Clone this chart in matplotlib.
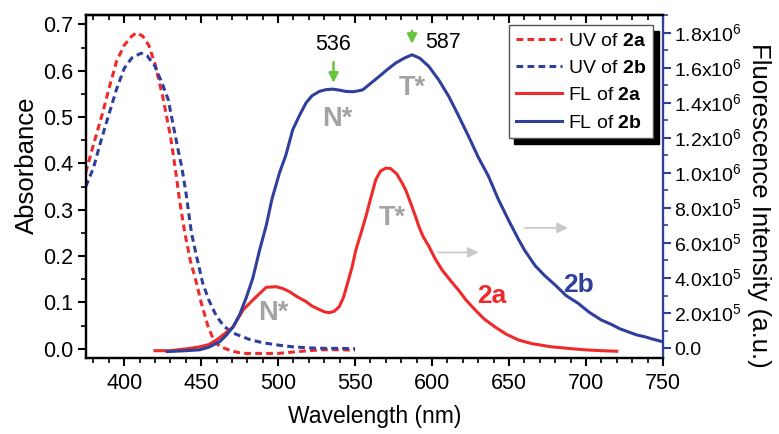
import numpy as np
import matplotlib
matplotlib.use('Agg')
import matplotlib.pyplot as plt
from matplotlib.ticker import MultipleLocator, FixedLocator, FixedFormatter

plt.rcParams['font.family'] = ['Liberation Sans', 'DejaVu Sans']
plt.rcParams['mathtext.fontset'] = 'custom'
plt.rcParams['mathtext.rm'] = 'Liberation Sans'
plt.rcParams['mathtext.bf'] = 'Liberation Sans:bold'

# UV absorption (left axis)
uv_a_x = [375, 380, 386, 390, 395, 400, 405, 408, 412, 416, 420, 425, 430, 433, 436, 439.4, 443, 447, 450,
          454.5, 458, 462, 470, 477, 490, 500, 510, 520, 530, 540, 550]
uv_a_y = [0.38, 0.44, 0.509, 0.56, 0.62, 0.655, 0.675, 0.682, 0.675, 0.655, 0.615, 0.545, 0.46, 0.394, 0.32,
          0.25, 0.19, 0.142, 0.10, 0.048, 0.02, 0.005, -0.005, -0.01, -0.01, -0.01, -0.007, -0.004, -0.002,
          -0.002, -0.003]
uv_b_x = [375, 380, 385, 390, 395, 400, 405, 411, 415, 420, 425, 428.6, 432, 435, 437.3, 440, 443.7, 447,
          451, 455, 460, 465, 470.7, 481.5, 490, 500, 510, 520, 530, 540, 550]
uv_b_y = [0.35, 0.39, 0.45, 0.505, 0.56, 0.605, 0.628, 0.638, 0.632, 0.61, 0.57, 0.538, 0.48, 0.43, 0.394,
          0.34, 0.25, 0.2, 0.142, 0.105, 0.07, 0.048, 0.034, 0.02, 0.013, 0.008, 0.004, 0.002, 0.001, 0.001, 0.0]

# fluorescence (right axis, units of 1e6)
fl_a_x = [420, 430, 440, 449, 455, 460, 465, 470.7, 477.2, 484.7, 492.3, 498.8, 503, 507.4, 512, 518.2,
          522, 526.8, 530, 533.2, 536.5, 539.7, 542.5, 545.1, 548, 550.5, 554, 557, 560, 563.4, 566.5, 570,
          573, 577, 580.7, 583, 586, 589.3, 591.5, 594, 598, 602, 606.5, 612, 617.3, 622, 628.1, 634, 641,
          648, 656.2, 665, 677.7, 690, 699.3, 710, 720]
fl_a_y = [-0.015, -0.015, -0.005, 0.007, 0.02, 0.046, 0.08, 0.12, 0.217, 0.284, 0.347, 0.35, 0.34, 0.322,
          0.295, 0.265, 0.24, 0.22, 0.207, 0.202, 0.21, 0.236, 0.29, 0.37, 0.46, 0.56, 0.66, 0.75, 0.85, 0.96,
          1.01, 1.027, 1.025, 0.995, 0.94, 0.9, 0.83, 0.75, 0.693, 0.64, 0.58, 0.51, 0.446, 0.385, 0.33,
          0.275, 0.217, 0.165, 0.12, 0.08, 0.046, 0.025, 0.007, -0.003, -0.01, -0.015, -0.018]
fl_b_x = [428, 440, 449, 455, 462, 466, 470.7, 475, 479.4, 483.6, 488, 492.3, 496, 500.9, 505, 509.5, 514,
          518.2, 522, 526.8, 531, 535.4, 540, 544, 548.3, 552, 555, 560, 565.6, 571, 576.4, 582, 587, 592,
          597.9, 604.4, 610.9, 617, 623.8, 630, 636.7, 643, 649.7, 656.2, 660, 667, 673, 680, 687, 695, 702,
          710, 716.5, 722, 727.3, 733, 738, 743, 749]
fl_b_y = [-0.02, -0.015, -0.01, 0.005, 0.036, 0.07, 0.12, 0.19, 0.29, 0.4, 0.56, 0.7, 0.85, 1.0, 1.1, 1.246,
          1.33, 1.4, 1.44, 1.465, 1.475, 1.478, 1.472, 1.465, 1.463, 1.468, 1.474, 1.51, 1.55, 1.59, 1.627,
          1.655, 1.674, 1.655, 1.608, 1.53, 1.436, 1.33, 1.207, 1.09, 0.98, 0.85, 0.73, 0.62, 0.56, 0.47,
          0.415, 0.36, 0.3, 0.255, 0.205, 0.16, 0.135, 0.11, 0.093, 0.075, 0.065, 0.052, 0.038]

right_ticks = [0, 0.2e6, 0.4e6, 0.6e6, 0.8e6, 1.0e6, 1.2e6, 1.4e6, 1.6e6, 1.8e6]
right_labels = ['0.0', r'2.0x10$^5$', r'4.0x10$^5$', r'6.0x10$^5$', r'8.0x10$^5$', r'1.0x10$^6$',
                r'1.2x10$^6$', r'1.4x10$^6$', r'1.6x10$^6$', r'1.8x10$^6$']

red = '#ee2a2a'
blue = '#2e3f9c'
gray = '#a3a3a3'

fig = plt.figure(figsize=(7.79, 4.34), dpi=100)
ax = fig.add_axes([0.110, 0.175, 0.741, 0.790])
ax2 = ax.twinx()

l1, = ax.plot(uv_a_x, uv_a_y, color=red, lw=2.2, ls=(0, (2.2, 1.4)), label=r'UV of $\mathbf{2a}$')
l2, = ax.plot(uv_b_x, uv_b_y, color=blue, lw=2.2, ls=(0, (2.2, 1.4)), label=r'UV of $\mathbf{2b}$')
l3, = ax2.plot(fl_a_x, np.array(fl_a_y) * 1e6, color=red, lw=2.2, label=r'FL of $\mathbf{2a}$')
l4, = ax2.plot(fl_b_x, np.array(fl_b_y) * 1e6, color=blue, lw=2.2, label=r'FL of $\mathbf{2b}$')

ax.set_xlim(375, 750)
ax.set_ylim(-0.02, 0.72)
ax2.set_ylim(-0.057e6, 1.9e6)

ax.xaxis.set_major_locator(MultipleLocator(50))
ax.xaxis.set_minor_locator(MultipleLocator(10))
ax.yaxis.set_major_locator(MultipleLocator(0.1))
ax.yaxis.set_minor_locator(MultipleLocator(0.05))
ax.yaxis.set_major_formatter(plt.FuncFormatter(lambda v, p: '%.1f' % v))
ax2.yaxis.set_major_locator(FixedLocator(right_ticks))
ax2.yaxis.set_major_formatter(FixedFormatter(right_labels))
ax2.yaxis.set_minor_locator(MultipleLocator(0.1e6))

ax.tick_params(which='major', direction='out', length=6, width=1.5, labelsize=15.5, pad=3)
ax.tick_params(axis='x', which='major', pad=5)
ax.tick_params(which='minor', direction='out', length=3.5, width=1.2)
ax2.tick_params(axis='y', which='major', direction='out', length=6, width=1.5, labelsize=14, pad=2,
                color=blue)
ax2.tick_params(axis='y', which='minor', direction='out', length=3.5, width=1.2, color=blue)

top = ax.secondary_xaxis('top')
top.xaxis.set_major_locator(MultipleLocator(50))
top.xaxis.set_minor_locator(MultipleLocator(10))
top.tick_params(which='major', direction='in', length=6, width=1.5, labeltop=False)
top.tick_params(which='minor', direction='in', length=3.5, width=1.2)

for s in ['left', 'bottom', 'top']:
    ax.spines[s].set_linewidth(1.6)
    ax2.spines[s].set_linewidth(1.6)
ax2.spines['right'].set_linewidth(1.6)
ax2.spines['right'].set_color(blue)
top.spines['top'].set_linewidth(1.6)

ax.set_xlabel('Wavelength (nm)', fontsize=16.5)
ax.xaxis.set_label_coords(0.5, -0.137)
ax.set_ylabel('Absorbance', fontsize=18.5, labelpad=3)
ax.yaxis.label.set_y(0.563)
ax2.set_ylabel('Fluorescence Intensity (a.u.)', fontsize=18.5, rotation=270, labelpad=21)
ax2.yaxis.label.set_y(0.446)

# annotations (in absorbance coordinates)
green = '#66c43a'
ax.annotate('', xy=(536, 0.568), xytext=(536, 0.625),
            arrowprops=dict(arrowstyle='-|>', color=green, lw=1.8, mutation_scale=14))
ax.text(536, 0.657, '536', fontsize=15.5, ha='center', va='center')
ax.annotate('', xy=(587, 0.652), xytext=(587, 0.692),
            arrowprops=dict(arrowstyle='-|>', color=green, lw=1.8, mutation_scale=14))
ax.text(607, 0.661, '587', fontsize=15.5, ha='center', va='center')

for tx, ty, s in [(538.6, 0.495, 'N*'), (587, 0.563, 'T*'), (496.6, 0.077, 'N*'), (574, 0.282, 'T*')]:
    ax.text(tx, ty, s, fontsize=19.5, fontweight='bold', color=gray, ha='center', va='center')

for x0, x1, yy in [(602, 632, 0.208), (658, 690, 0.261)]:
    ax.annotate('', xy=(x1, yy), xytext=(x0, yy),
                arrowprops=dict(arrowstyle='-|>', color='#c8c8c8', lw=1.2, mutation_scale=16))

ax.text(638.8, 0.113, '2a', fontsize=19, fontweight='bold', color=red, ha='center', va='center')
ax.text(695, 0.138, '2b', fontsize=19, fontweight='bold', color=blue, ha='center', va='center')

leg = ax2.legend(handles=[l1, l2, l3, l4], loc='upper right', bbox_to_anchor=(0.983, 0.971),
                 fontsize=14, frameon=True, fancybox=False, edgecolor='#555555', framealpha=1,
                 shadow={'color': 'black', 'alpha': 1, 'ox': 4, 'oy': -4}, handlelength=2.4,
                 handletextpad=0.3, labelspacing=0.5, borderpad=0.35, borderaxespad=0)
leg.get_frame().set_linewidth(1.0)

fig.savefig('out.png', dpi=100)
